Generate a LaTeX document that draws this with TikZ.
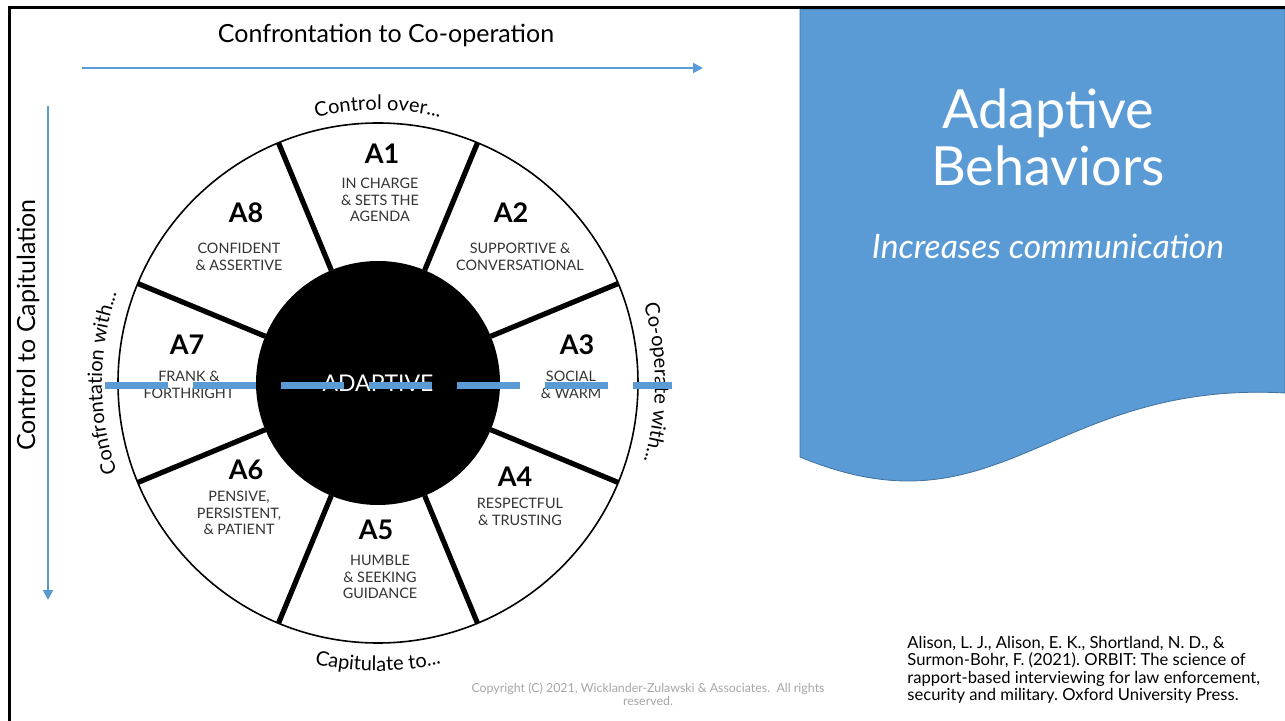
\documentclass[tikz,border=0pt]{standalone}
\usepackage{fontspec}
\setmainfont{Lato}
\usetikzlibrary{arrows.meta,calc,decorations.text}
\frenchspacing

\definecolor{slideblue}{HTML}{5B9BD5}
\definecolor{slideedge}{HTML}{41719C}
\definecolor{wheeltext}{HTML}{333333}
\definecolor{copygray}{HTML}{A6A6A6}

\tikzset{
	axisarrow/.style={draw=slideblue,line width=1pt,-{Triangle[length=5pt,width=5pt]}},
	axislabel/.style={font=\fontsize{12.5}{14}\selectfont},
	sectorname/.style={font=\fontsize{13.5}{15}\selectfont\bfseries},
	sectortext/.style={font=\fontsize{7.2}{8.2}\selectfont,text=wheeltext,align=center,inner sep=0pt},
	spoke/.style={line width=2.6pt},
	dashline/.style={draw=slideblue,line width=3.5pt,dash pattern=on 31.5pt off 12.5pt}
}

\begin{document}
\begin{tikzpicture}[x=0.5pt,y=0.5pt]
	\def\rout{260}
	\def\rin{122}
	\useasboundingbox (0,-721) rectangle (1285,0);
	
	% blue panel
	\filldraw[fill=slideblue,draw=slideedge,line width=0.4pt]
		(800,-9) -- (1285,-9) -- (1285,-393)
		.. controls (1050,-380) and (1000,-540) .. (800,-457) -- cycle;
	\draw[line width=1.5pt] (9,-721) -- (9,-8) -- (1285,-8);
	
	\node[text=white,align=center,font=\fontsize{27}{28.5}\selectfont] (title) at (1048,-137) {Adaptive\\Behaviors};
	\node[text=white,font=\fontsize{16.8}{18}\selectfont\itshape] (subtitle) at (1048,-246) {Increases communication};
	
	% axes
	\node[axislabel] (toplabel) at (386,-35) {Confrontation to Co-operation};
	\node[axislabel,rotate=90] (sidelabel) at (28,-325) {Control to Capitulation};
	\coordinate (hstart) at (82,-68);
	\coordinate (hend) at (703,-68);
	\coordinate (vstart) at (48,-106);
	\coordinate (vend) at (48,-600);
	\draw[axisarrow] (hstart) -- (hend);
	\draw[axisarrow] (vstart) -- (vend);
	
	% wheel
	\coordinate (C) at (378,-383);
	\draw[line width=0.8pt] (C) circle[radius=\rout];
	\fill (C) circle[radius=\rin];
	\foreach \a in {22.5,67.5,...,337.5} {
		\draw[spoke] ($(C)+(\a:\rin)$) -- ($(C)+(\a:\rout)$);
	}
	\node[text=white,font=\fontsize{11.5}{13}\selectfont] (core) at (C) {ADAPTIVE};
	
	\foreach \nm/\ax/\ay/\tx/\ty/\txt in {
		A1/382/-154/380/-200/{IN CHARGE\\\& SETS THE\\AGENDA},
		A2/511/-213/520/-257/{SUPPORTIVE \&\\CONVERSATIONAL},
		A3/577/-345/571/-385/{SOCIAL\\\& WARM},
		A4/515/-477/520/-512/{RESPECTFUL\\\& TRUSTING},
		A5/376/-530/380/-577/{HUMBLE\\\& SEEKING\\GUIDANCE},
		A6/246/-470/239/-513/{PENSIVE,\\PERSISTENT,\\\& PATIENT},
		A7/187/-345/189/-385/{FRANK \&\\FORTHRIGHT},
		A8/246/-213/239/-257/{CONFIDENT\\\& ASSERTIVE}} {
		\node[sectorname] (\nm) at (\ax,\ay) {\nm};
		\node[sectortext] (\nm-text) at (\tx,\ty) {\txt};
	}
	
	% labels round the rim
	\path[decorate,decoration={text along path,text align=center,
		text={|\fontsize{10}{12}\selectfont|Control over...}}]
		($(C)+(115:273)$) arc[start angle=115,end angle=65,radius=273];
	\path[decorate,decoration={text along path,text align=center,
		text={|\fontsize{10}{12}\selectfont|Capitulate to...}}]
		($(C)+(245:288)$) arc[start angle=245,end angle=295,radius=288];
	\path[decorate,decoration={text along path,text align=center,
		text={|\fontsize{10}{12}\selectfont|Confrontation with...}}]
		($(C)+(210:276)$) arc[start angle=210,end angle=150,radius=276];
	\path[decorate,decoration={text along path,text align=center,
		text={|\fontsize{10}{12}\selectfont|Co-operate with...}}]
		($(C)+(30:277)$) arc[start angle=30,end angle=-30,radius=277];
	
	\coordinate (dashL) at (105,-386);
	\coordinate (dashR) at (672,-386);
	\draw[dashline] (dashL) -- (dashR);
	
	% footer
	\node[text=copygray,align=center,font=\fontsize{6.2}{6.6}\selectfont] (copyright) at (648,-694)
		{Copyright (C) 2021, Wicklander-Zulawski \& Associates.\ \ All rights\\reserved.};
	\node[anchor=north west,align=left,inner sep=0pt,font=\fontsize{8.3}{8.6}\selectfont] (source) at (907,-636)
		{Alison, L. J., Alison, E. K., Shortland, N. D., \&\\Surmon-Bohr, F. (2021). ORBIT: The science of\\rapport-based interviewing for law enforcement,\\security and military. Oxford University Press.};
\end{tikzpicture}
\end{document}
